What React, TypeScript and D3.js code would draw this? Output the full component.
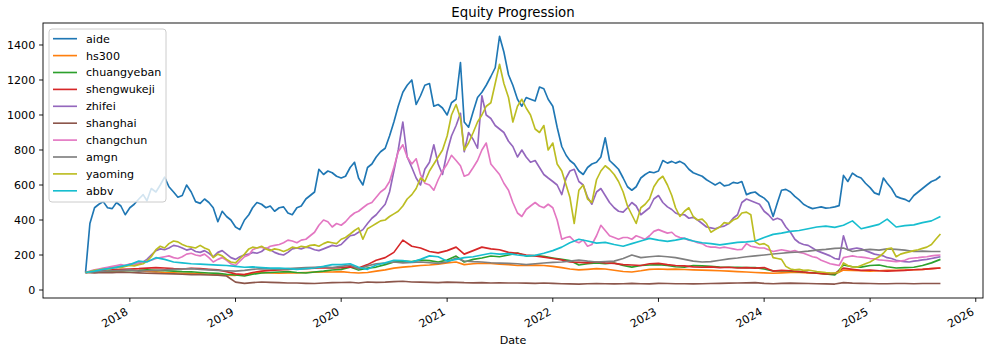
import React, { useEffect, useRef } from "react";
import * as d3 from "d3";

const WIDTH = 997;
const HEIGHT = 351;

// semi-monthly samples (1st and 16th), Aug 2017 .. Sep 2025
const aide = [
  100, 380, 470, 490, 505, 470, 465, 500, 480, 430,
  470, 490, 520, 545, 510, 580, 560, 600, 645, 590,
  560, 530, 540, 600, 560, 505, 495, 520, 500, 470,
  390, 450, 420, 400, 360, 345, 400, 430, 470, 500,
  490, 470, 480, 450, 470, 475, 440, 430, 470, 480,
  520, 540, 560, 690, 660, 680, 670, 650, 640, 650,
  700, 730, 640, 600, 700, 720, 760, 790, 810, 880,
  960, 1050, 1130, 1170, 1200, 1060, 1110, 1170, 1180, 1050,
  1060, 1040, 1000, 1070, 1090, 1300, 960, 930, 1020, 1100,
  1130, 1170, 1220, 1270, 1450, 1360, 1230, 1170, 1090, 1050,
  1100, 1090, 1080, 1160, 1150, 1090, 1050, 930, 820, 770,
  740, 720, 680, 660, 700, 720, 730, 760, 870, 740,
  715, 690, 640, 590, 570, 590, 640, 660, 675, 670,
  680, 740, 725, 735, 725, 735, 720, 690, 670, 660,
  650, 630, 615, 600, 615, 595, 600, 615, 610, 620,
  545, 555, 560, 540, 525, 500, 420, 500, 570, 575,
  560, 535, 515, 490, 475, 465, 470, 475, 468, 470,
  475, 482, 655, 620, 668, 650, 640, 610, 585, 555,
  545, 640, 610, 580, 535, 525, 518, 505, 540, 560,
  580, 600, 620, 630, 650,
];

const yaoming = [
  100, 105, 112, 115, 120, 118, 125, 130, 128, 135,
  140, 138, 145, 150, 165, 190, 230, 250, 240, 265,
  280, 275, 260, 250, 245, 240, 255, 240, 230, 185,
  205, 195, 175, 160, 155, 180, 205, 235, 245, 240,
  250, 235, 225, 235, 230, 220, 230, 245, 240, 250,
  245, 255, 258, 250, 265, 275, 270, 265, 290, 300,
  320, 340, 355, 290, 350, 365, 380, 395, 400, 420,
  435, 450, 480, 520, 545, 580, 640, 620, 680, 720,
  760, 800, 880, 1000, 1060, 980, 800, 840, 900, 960,
  1000, 1050, 1070, 1180, 1290, 1180, 1100, 960, 1050, 1090,
  1040, 1000, 920, 900, 940, 800, 840, 720, 680, 600,
  530, 380, 570, 600, 520, 500, 630, 680, 710, 690,
  660, 620, 560, 480, 430, 380, 470, 490, 520, 590,
  630, 650, 600, 540, 470, 420, 450, 470, 420, 400,
  405, 380, 330, 345, 360, 385, 380, 400, 410, 440,
  445, 430, 275, 260, 265, 250, 185, 180, 175, 135,
  120, 115, 118, 112, 114, 110, 106, 103, 100, 98,
  97, 103, 155, 140, 132, 130, 140, 150, 160, 175,
  190, 210, 235, 240, 190, 205, 212, 218, 225, 230,
  238, 245, 260, 290, 320,
];

const zhifei = [
  100, 104, 110, 115, 120, 125, 130, 128, 135, 140,
  145, 150, 148, 160, 175, 200, 225, 235, 230, 240,
  255, 250, 240, 228, 235, 220, 215, 225, 210, 190,
  215, 225, 205, 185, 175, 190, 200, 205, 215, 210,
  220, 240, 230, 215, 205, 200, 215, 235, 240, 235,
  245, 240, 230, 225, 235, 245, 255, 250, 260, 285,
  310, 315, 330, 345, 380, 410, 430, 460, 490, 560,
  680, 800, 960, 760, 700, 640, 600, 690, 730, 830,
  720, 660, 790, 880, 940, 1010, 790, 900, 860, 810,
  1110, 1000, 980, 940, 920, 900, 850, 820, 760, 800,
  760, 730, 740, 700, 660, 640, 620, 600, 545, 640,
  680, 690, 620, 600, 530, 490, 560, 580, 540, 500,
  470, 450, 445, 470, 500, 480, 430, 450, 470, 520,
  540, 500, 475, 460, 440, 430, 430, 410, 415, 400,
  380, 360, 355, 350, 360, 365, 380, 410, 430, 500,
  520, 510, 500, 490, 450, 430, 400, 410, 400, 360,
  330, 290, 270, 260, 255, 240, 225, 215, 205, 195,
  180, 175, 310, 230, 235, 240, 235, 225, 215, 205,
  200, 195, 185, 180, 170, 165, 162, 160, 165, 168,
  172, 175, 180, 185, 190,
];

const changchun = [
  100, 108, 115, 120, 125, 130, 135, 140, 145, 140,
  150, 148, 155, 160, 165, 170, 180, 185, 190, 195,
  185, 180, 190, 205, 210, 200, 195, 205, 185, 160,
  175, 185, 170, 150, 140, 165, 190, 200, 230, 240,
  245, 235, 250, 255, 260, 270, 285, 280, 270, 285,
  290, 310, 330, 370, 400, 390, 360, 380, 370, 390,
  420, 440, 450, 470, 490, 500, 530, 560, 580, 620,
  700, 790, 830, 760, 720, 750, 660, 610, 600, 570,
  630, 680, 720, 770, 740, 710, 650, 660, 700, 740,
  800, 840, 720, 690, 660, 610, 570, 500, 440, 420,
  460, 480, 500, 480, 470, 490, 470, 400, 290, 300,
  305, 280, 270, 285, 250, 260, 310, 370, 340, 310,
  300, 290, 300, 300, 290, 310, 300, 290, 310, 335,
  345, 335, 325, 330, 310, 300, 295, 285, 280, 270,
  265, 250, 245, 245, 240, 245, 240, 235, 230, 232,
  265, 250, 245, 240, 240, 230, 220, 225, 230, 225,
  220, 225, 215, 210, 200, 190, 185, 170, 160, 150,
  145, 140, 185, 190, 195, 190, 188, 185, 180, 178,
  172, 170, 168, 165, 162, 165, 170, 180, 183, 185,
  188, 190, 195, 198, 200,
];

// monthly samples (1st of month), Aug 2017 .. Sep 2025
const hs300 = [
  100, 103, 106, 108, 110, 114, 110, 106, 104, 100,
  98, 96, 95, 93, 90, 87, 85, 84, 88, 95,
  100, 98, 96, 97, 98, 100, 102, 104, 103, 105,
  100, 97, 100, 108, 115, 125, 131, 135, 140, 143,
  148, 155, 160, 145, 150, 153, 152, 148, 145, 140,
  140, 142, 140, 135, 128, 120, 115, 118, 122, 120,
  113, 106, 103, 110, 118, 120, 118, 119, 117, 115,
  114, 112, 110, 108, 105, 103, 100, 98, 96, 98,
  100, 100, 98, 96, 92, 90, 114, 112, 110, 108,
  110, 112, 112, 114, 116, 118, 122, 126,
];

const chuangyeban = [
  100, 105, 108, 110, 112, 110, 112, 115, 112, 110,
  108, 105, 104, 100, 97, 95, 90, 86, 80, 90,
  97, 100, 103, 105, 100, 97, 103, 108, 114, 118,
  131, 114, 125, 131, 145, 160, 165, 163, 171, 168,
  160, 171, 194, 160, 175, 183, 194, 190, 200, 211,
  194, 197, 192, 183, 175, 168, 143, 150, 154, 150,
  154, 140, 131, 140, 143, 145, 140, 133, 131, 140,
  138, 135, 131, 130, 129, 128, 128, 120, 109, 110,
  108, 105, 100, 97, 92, 86, 143, 133, 131, 140,
  143, 133, 126, 128, 130, 140, 155, 175,
];

const shengwukeji = [
  100, 108, 112, 115, 118, 120, 122, 125, 128, 126,
  122, 120, 124, 122, 118, 115, 105, 92, 88, 100,
  108, 112, 115, 118, 120, 122, 125, 128, 126, 128,
  132, 125, 145, 170, 185, 215, 285, 250, 240, 220,
  212, 225, 245, 205, 225, 245, 235, 230, 215, 210,
  200, 195, 188, 180, 172, 160, 158, 155, 160, 155,
  152, 145, 143, 140, 150, 152, 145, 140, 138, 132,
  130, 132, 128, 130, 126, 128, 125, 128, 108, 112,
  110, 105, 100, 96, 92, 95, 125, 118, 112, 114,
  110, 108, 110, 112, 116, 118, 122, 126,
];

const shanghai = [
  100, 98, 100, 99, 102, 100, 98, 96, 95, 93,
  92, 90, 88, 88, 86, 85, 80, 45, 38, 42,
  46, 44, 42, 40, 40, 38, 37, 40, 42, 43,
  44, 40, 46, 44, 45, 48, 50, 46, 45, 44,
  42, 45, 44, 42, 41, 42, 40, 41, 40, 40,
  39, 38, 40, 38, 36, 35, 34, 36, 37, 36,
  35, 36, 38, 36, 35, 38, 37, 36, 36, 35,
  36, 37, 38, 39, 40, 41, 42, 38, 36, 38,
  39, 38, 37, 36, 35, 34, 42, 39, 38, 37,
  36, 36, 37, 37, 36, 37, 37, 37,
];

const amgn = [
  100, 104, 108, 110, 112, 115, 108, 110, 112, 115,
  118, 120, 122, 118, 115, 112, 110, 108, 112, 118,
  122, 120, 118, 122, 125, 128, 130, 132, 128, 135,
  143, 120, 138, 150, 154, 160, 155, 158, 160, 156,
  152, 160, 183, 166, 162, 160, 156, 154, 152, 150,
  145, 150, 154, 158, 160, 165, 171, 165, 160, 162,
  165, 180, 200, 185, 190, 194, 190, 185, 175, 165,
  160, 162, 170, 178, 183, 190, 195, 200, 206, 210,
  215, 217, 222, 228, 232, 238, 240, 220, 228, 232,
  228, 235, 232, 228, 220, 222, 220, 220,
];

const abbv = [
  100, 108, 118, 125, 135, 145, 165, 160, 185, 175,
  160, 155, 150, 148, 145, 142, 140, 135, 130, 132,
  128, 125, 126, 122, 118, 122, 126, 135, 145, 145,
  150, 130, 118, 143, 155, 170, 168, 160, 175, 195,
  190, 165, 175, 185, 190, 200, 210, 205, 208, 200,
  195, 198, 210, 225, 245, 270, 290, 280, 268, 272,
  260, 250, 265, 280, 295, 285, 278, 285, 295, 280,
  270, 265, 258, 265, 272, 275, 280, 300, 318, 325,
  335, 340, 350, 360, 365, 358, 370, 395, 350, 362,
  375, 405, 360, 368, 372, 385, 395, 420,
];

const seriesNames = [
  "aide", "hs300", "chuangyeban", "shengwukeji", "zhifei",
  "shanghai", "changchun", "amgn", "yaoming", "abbv",
];
const seriesValues = [
  aide, hs300, chuangyeban, shengwukeji, zhifei,
  shanghai, changchun, amgn, yaoming, abbv,
];
const colors = [
  "#1f77b4", "#ff7f0e", "#2ca02c", "#d62728", "#9467bd",
  "#8c564b", "#e377c2", "#7f7f7f", "#bcbd22", "#17becf",
];
const yTicks = [0, 200, 400, 600, 800, 1000, 1200, 1400];
const xTickYears = [2018, 2019, 2020, 2021, 2022, 2023, 2024, 2025, 2026];

const startDate = new Date(2017, 7, 1);

// dates for an array of n points: monthly if short, semi-monthly if long
const datesFor = (n: number) =>
  n > 100
    ? d3.range(n).map((i) => {
        const d = d3.timeMonth.offset(startDate, Math.floor(i / 2));
        return i % 2 ? d3.timeDay.offset(d, 15) : d;
      })
    : d3.range(n).map((i) => d3.timeMonth.offset(startDate, i));

const EquityChart: React.FC = () => {
  const ref = useRef<SVGSVGElement>(null);

  useEffect(() => {
    if (!ref.current) return;
    const svg = d3.select(ref.current);
    svg.selectAll("*").remove();

    const margin = { top: 23, right: 14, bottom: 53, left: 43 };
    const width = WIDTH - margin.left - margin.right;
    const height = HEIGHT - margin.top - margin.bottom;
    const font = "DejaVu Sans, sans-serif";

    const x = d3
      .scaleTime()
      .domain([new Date(2017, 2, 7), new Date(2026, 0, 26)])
      .range([0, width]);

    const y = d3.scaleLinear().domain([-45.7, 1525.7]).range([height, 0]);

    const g = svg
      .append("g")
      .attr("transform", `translate(${margin.left},${margin.top})`);

    // lines
    const line = d3
      .line<[Date, number]>()
      .x((d) => x(d[0]))
      .y((d) => y(d[1]));

    seriesValues.forEach((vals, i) => {
      const dates = datesFor(vals.length);
      const pts = vals.map((v, j) => [dates[j], v] as [Date, number]);
      g.append("path")
        .datum(pts)
        .attr("fill", "none")
        .attr("stroke", colors[i])
        .attr("stroke-width", 1.65)
        .attr("stroke-linejoin", "round")
        .attr("d", line);
    });

    // frame
    g.append("rect")
      .attr("x", 0)
      .attr("y", 0)
      .attr("width", width)
      .attr("height", height)
      .attr("fill", "none")
      .attr("stroke", "#000")
      .attr("stroke-width", 0.9);

    // y ticks
    yTicks.forEach((t) => {
      g.append("line")
        .attr("x1", -3.9)
        .attr("x2", 0)
        .attr("y1", y(t))
        .attr("y2", y(t))
        .attr("stroke", "#000")
        .attr("stroke-width", 0.9);
      g.append("text")
        .attr("x", -7.8)
        .attr("y", y(t))
        .attr("dy", "0.36em")
        .attr("text-anchor", "end")
        .style("font-family", font)
        .style("font-size", "11.1px")
        .text(t);
    });

    // x ticks (rotated labels like autofmt_xdate)
    xTickYears.forEach((yr) => {
      const px = x(new Date(yr, 0, 1));
      g.append("line")
        .attr("x1", px)
        .attr("x2", px)
        .attr("y1", height)
        .attr("y2", height + 3.9)
        .attr("stroke", "#000")
        .attr("stroke-width", 0.9);
      g.append("text")
        .attr("transform", `translate(${px - 1},${height + 16}) rotate(-30)`)
        .attr("text-anchor", "end")
        .style("font-family", font)
        .style("font-size", "11.1px")
        .text(yr);
    });

    // title and axis label
    svg
      .append("text")
      .attr("x", margin.left + width / 2)
      .attr("y", 16.5)
      .attr("text-anchor", "middle")
      .style("font-family", font)
      .style("font-size", "13.3px")
      .text("Equity Progression");

    svg
      .append("text")
      .attr("x", margin.left + width / 2)
      .attr("y", 344)
      .attr("text-anchor", "middle")
      .style("font-family", font)
      .style("font-size", "11.1px")
      .text("Date");

    // legend
    const legend = svg.append("g").attr("transform", "translate(49,29)");
    legend
      .append("rect")
      .attr("width", 117)
      .attr("height", 173)
      .attr("rx", 3)
      .attr("fill", "#fff")
      .attr("fill-opacity", 0.8)
      .attr("stroke", "#cccccc")
      .attr("stroke-width", 1);

    seriesNames.forEach((name, i) => {
      const ly = 9.7 + i * 16.9;
      legend
        .append("line")
        .attr("x1", 4)
        .attr("x2", 28)
        .attr("y1", ly)
        .attr("y2", ly)
        .attr("stroke", colors[i])
        .attr("stroke-width", 1.65);
      legend
        .append("text")
        .attr("x", 37)
        .attr("y", ly)
        .attr("dy", "0.36em")
        .style("font-family", font)
        .style("font-size", "11.1px")
        .text(name);
    });
  }, []);

  return (
    <svg
      ref={ref}
      width={WIDTH}
      height={HEIGHT}
      style={{ position: "absolute", left: 0, top: 0, background: "#fff" }}
    />
  );
};

export default function App() {
  return <EquityChart />;
}
